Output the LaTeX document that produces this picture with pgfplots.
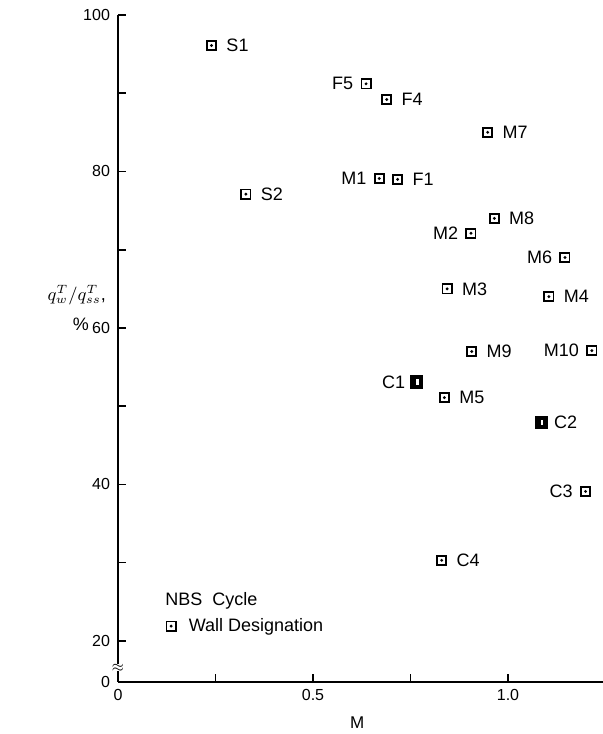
\documentclass[border=0pt]{standalone}
\usepackage{fontspec}
\setmainfont{Liberation Sans}
\usepackage{pgfplots}
\usepackage{pgfplotstable}
\pgfplotsset{compat=1.18}

\pgfdeclareplotmark{sqdot}{%
  \pgfpathrectangle{\pgfpoint{-\pgfplotmarksize}{-\pgfplotmarksize}}{\pgfpoint{2\pgfplotmarksize}{2\pgfplotmarksize}}%
  \pgfusepathqstroke
  \pgfpathcircle{\pgfpointorigin}{0.35\pgfplotmarksize}%
  \pgfusepathqfill}
\pgfdeclareplotmark{sqfill}{%
  \pgfpathrectangle{\pgfpoint{-\pgfplotmarksize}{-\pgfplotmarksize}}{\pgfpoint{2\pgfplotmarksize}{2\pgfplotmarksize}}%
  \pgfusepathqfillstroke
  \pgfsetfillcolor{white}%
  \pgfpathrectangle{\pgfpoint{-0.1\pgfplotmarksize}{-0.45\pgfplotmarksize}}{\pgfpoint{0.4\pgfplotmarksize}{0.9\pgfplotmarksize}}%
  \pgfusepathqfill}

% labels to the right of the marker
\pgfplotstableread{
x      y     label
0.240  96.1  S1
0.328  77.1  S2
0.689  89.2  F4
0.948  85.0  M7
0.717  79.0  F1
0.965  74.0  M8
0.844  65.0  M3
1.105  64.0  M4
0.907  57.0  M9
0.837  51.1  M5
0.830  30.3  C4
}\rightpts
% labels to the left of the marker
\pgfplotstableread{
x      y     label
0.636  91.2  F5
0.670  79.1  M1
0.905  72.1  M2
1.146  69.0  M6
1.215  57.1  M10
1.199  39.1  C3
}\leftpts
% filled markers
\pgfplotstableread{
x      y     label
0.766  53.1  C1
}\leftfilled
\pgfplotstableread{
x      y     label
1.086  47.9  C2
}\rightfilled

\begin{document}
\begin{tikzpicture}
\useasboundingbox (-59pt,-26pt) rectangle (242.5pt,341pt);
\begin{axis}[
  at={(0,0)}, anchor=south west,
  scale only axis, width=242.5pt, height=333.5pt,
  xmin=0, xmax=1.2436, ymin=14.75, ymax=100,
  axis x line*=bottom, axis y line*=left,
  axis line style={line width=0.9pt, black},
  tick style={line width=0.8pt, black},
  tick align=inside,
  major tick length=4pt,
  xtick={0,0.25,0.5,0.75,1.0}, xticklabels={0,,0.5,,1.0},
  ytick={14.75,20,30,40,50,60,70,80,90,100},
  yticklabels={0,20,,40,,60,,80,,100},
  ticklabel style={font=\fontsize{8}{9}\selectfont},
  yticklabel style={xshift=-0.5pt},
  xlabel={M},
  x label style={at={(axis description cs:0.493,0)}, anchor=center, yshift=-20.5pt, font=\fontsize{8.5}{10}\selectfont},
  clip=false,
  legend style={at={(axis cs:0.1235,21.9)}, anchor=west, draw=none, fill=none,
    inner sep=0pt, font=\fontsize{9}{10}\selectfont},
  legend cell align=left,
]
\addlegendimage{only marks, mark=sqdot, mark size=2.3pt, line width=0.9pt}
\addlegendentry{\hspace{4.5pt}Wall Designation}

\addplot[only marks, mark=sqdot, mark size=2.3pt, line width=0.9pt,
  point meta=explicit symbolic, nodes near coords,
  nodes near coords style={anchor=west, xshift=7pt, inner sep=0pt, font=\fontsize{9}{10}\selectfont}]
  table[x=x, y=y, meta=label] {\rightpts};
\addplot[only marks, mark=sqdot, mark size=2.3pt, line width=0.9pt,
  point meta=explicit symbolic, nodes near coords,
  nodes near coords style={anchor=east, xshift=-6pt, inner sep=0pt, font=\fontsize{9}{10}\selectfont}]
  table[x=x, y=y, meta=label] {\leftpts};
\addplot[only marks, mark=sqfill, mark size=3pt, line width=0.6pt,
  point meta=explicit symbolic, nodes near coords,
  nodes near coords style={anchor=east, xshift=-5.5pt, inner sep=0pt, font=\fontsize{9}{10}\selectfont}]
  table[x=x, y=y, meta=label] {\leftfilled};
\addplot[only marks, mark=sqfill, mark size=3pt, line width=0.6pt,
  point meta=explicit symbolic, nodes near coords,
  nodes near coords style={anchor=west, xshift=6pt, inner sep=0pt, font=\fontsize{9}{10}\selectfont}]
  table[x=x, y=y, meta=label] {\rightfilled};

\node[anchor=west, inner sep=0pt, font=\fontsize{9}{10}\selectfont] at (axis cs:0.1205,25.1) {NBS\ \ Cycle};
\node[fill=white, inner sep=0pt, font=\scriptsize] at (axis cs:0,16.6) {$\approx$};
\node[anchor=east, inner sep=0pt, font=\fontsize{9}{10}\selectfont] at (axis cs:-0.03,64.2)
  {$q^T_w/q^T_{ss}$,};
\node[anchor=center, inner sep=0pt, font=\fontsize{9}{10}\selectfont] at (axis cs:-0.095,60.5) {\%};
\end{axis}
\end{tikzpicture}
\end{document}
